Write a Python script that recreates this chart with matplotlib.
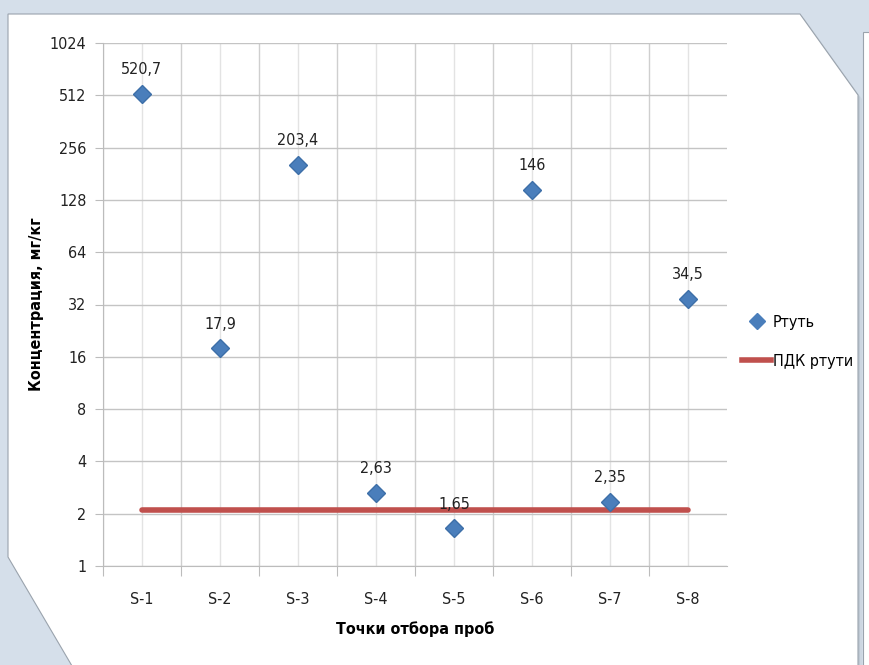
import numpy as np
import matplotlib.pyplot as plt
from matplotlib.patches import Polygon, Rectangle
from matplotlib.lines import Line2D
from matplotlib.ticker import FixedLocator, NullFormatter

plt.rcParams['font.family'] = ['DejaVu Sans']
plt.rcParams['font.stretch'] = 'condensed'

points = ['S-1', 'S-2', 'S-3', 'S-4', 'S-5', 'S-6', 'S-7', 'S-8']
mercury = [520.7, 17.9, 203.4, 2.63, 1.65, 146, 2.35, 34.5]
labels = ['520,7', '17,9', '203,4', '2,63', '1,65', '146', '2,35', '34,5']
pdk = [2.1] * len(points)
yticks = [1, 2, 4, 8, 16, 32, 64, 128, 256, 512, 1024]

W, H = 869, 665
fig = plt.figure(figsize=(W / 100, H / 100), dpi=100)
fig.patch.set_facecolor('#d5dfea')

# background "paper" shapes
bg = fig.add_axes([0, 0, 1, 1])
bg.set_xlim(0, W)
bg.set_ylim(H, 0)
bg.axis('off')
paper = [(8, 14), (800, 14), (858, 95), (858, 700), (92, 700), (8, 557)]
for off, a in [(4, 0.10), (2, 0.18)]:
    bg.add_patch(Polygon([(x + off, y + off) for x, y in paper], closed=True,
                         facecolor='#7f8a96', edgecolor='none', alpha=a))
bg.add_patch(Polygon(paper, closed=True, facecolor='white', edgecolor='#9aa3ad', lw=0.8))
bg.add_patch(Rectangle((863, 32), 20, 700, facecolor='white', edgecolor='#9aa3ad', lw=0.8))

# chart
ax = fig.add_axes([103 / W, (H - 566) / H, (727 - 103) / W, (566 - 43) / H])
ax.set_facecolor('white')
x = np.arange(len(points))
ax.set_yscale('log', base=2)
ax.set_ylim(1, 1024)
ax.set_xlim(-0.5, len(points) - 0.5)

ax.yaxis.set_major_locator(FixedLocator(yticks))
ax.set_yticklabels([str(v) for v in yticks])
ax.yaxis.set_minor_formatter(NullFormatter())
ax.yaxis.set_minor_locator(FixedLocator([]))
ax.set_xticks(x - 0.5, minor=False)
ax.set_xticklabels([''] * len(points))
ax.set_xticks(x, minor=True)
ax.set_xticklabels(points, minor=True)

ax.grid(axis='y', which='major', color='#c4c4c4', lw=1)
ax.grid(axis='x', which='major', color='#cfcfcf', lw=1)
ax.grid(axis='x', which='minor', color='#e3e3e3', lw=1)
ax.set_axisbelow(True)
for s in ['top', 'right']:
    ax.spines[s].set_visible(False)
for s in ['left', 'bottom']:
    ax.spines[s].set_color('#bcbcbc')
ax.tick_params(axis='y', which='major', length=6, color='#bcbcbc', labelsize=11.5,
               labelcolor='#222222', pad=6)
ax.tick_params(axis='x', which='major', length=7, color='#bcbcbc')
ax.tick_params(axis='x', which='minor', length=0, labelsize=11.5, labelcolor='#222222', pad=19)

ax.plot(x, pdk, color='#c0504d', lw=4, solid_capstyle='round', zorder=3)
ax.plot(x, mercury, linestyle='none', marker='D', markersize=9,
        color='#4a7ebb', markeredgecolor='#3d6fa8', zorder=4)
for xi, v, t in zip(x, mercury, labels):
    ax.annotate(t, (xi, v), xytext=(0, 12), textcoords='offset points',
                ha='center', va='bottom', fontsize=11.5, color='#222222')

ax.set_xlabel('Точки отбора проб', fontsize=11.5, fontweight='bold', labelpad=10)
ax.set_ylabel('Концентрация, мг/кг', fontsize=11.5, fontweight='bold', labelpad=4)

handles = [Line2D([], [], linestyle='none', marker='D', markersize=8, color='#4a7ebb'),
           Line2D([], [], color='#c0504d', lw=4)]
fig.legend(handles, ['Ртуть', 'ПДК ртути'], loc='center left',
           bbox_to_anchor=(728 / W, 1 - 342 / H), frameon=False, fontsize=11.5,
           handlelength=1.8, handletextpad=0.1, labelspacing=1.5)

fig.savefig('out.png', dpi=100, facecolor=fig.get_facecolor())
